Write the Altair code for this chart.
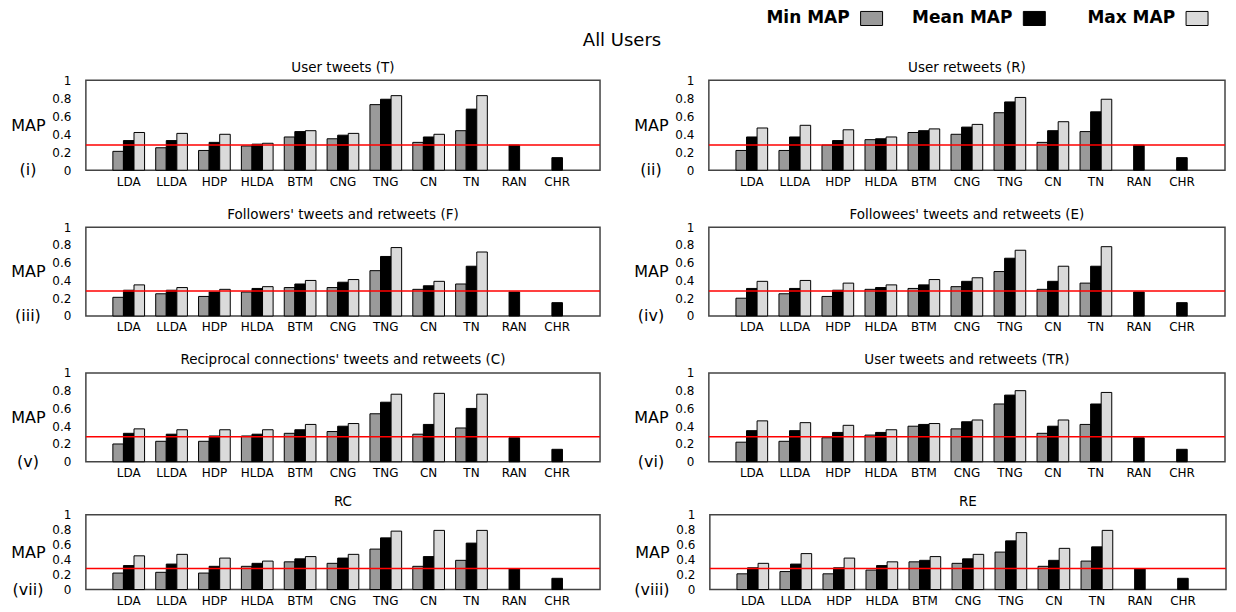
import altair as alt
import pandas as pd

methods = ["LDA", "LLDA", "HDP", "HLDA", "BTM", "CNG", "TNG", "CN", "TN", "RAN", "CHR"]
series = ["Min MAP", "Mean MAP", "Max MAP"]
series_fill = ["#9a9a9a", "#000000", "#dadada"]

panel_titles = [
    "User tweets (T)",
    "User retweets (R)",
    "Followers' tweets and retweets (F)",
    "Followees' tweets and retweets (E)",
    "Reciprocal connections' tweets and retweets (C)",
    "User tweets and retweets (TR)",
    "RC",
    "RE",
]
panel_tags = ["(i)", "(ii)", "(iii)", "(iv)", "(v)", "(vi)", "(vii)", "(viii)"]
random_line = [0.28, 0.28, 0.28, 0.28, 0.28, 0.28, 0.28, 0.28]
y_ticks = [0, 0.2, 0.4, 0.6, 0.8, 1]

# values per method (RAN and CHR have only a mean value)
min_T = [0.21, 0.25, 0.22, 0.27, 0.37, 0.35, 0.73, 0.31, 0.44, None, None]
mean_T = [0.33, 0.33, 0.31, 0.29, 0.43, 0.39, 0.79, 0.37, 0.68, 0.28, 0.14]
max_T = [0.42, 0.41, 0.40, 0.30, 0.44, 0.41, 0.83, 0.40, 0.83, None, None]

min_R = [0.22, 0.22, 0.28, 0.34, 0.42, 0.40, 0.64, 0.31, 0.43, None, None]
mean_R = [0.37, 0.37, 0.33, 0.35, 0.44, 0.48, 0.76, 0.44, 0.65, 0.28, 0.14]
max_R = [0.47, 0.50, 0.45, 0.37, 0.46, 0.51, 0.81, 0.54, 0.79, None, None]

min_F = [0.21, 0.25, 0.22, 0.27, 0.32, 0.32, 0.51, 0.30, 0.36, None, None]
mean_F = [0.29, 0.29, 0.27, 0.31, 0.36, 0.38, 0.67, 0.34, 0.56, 0.27, 0.15]
max_F = [0.35, 0.32, 0.30, 0.33, 0.40, 0.41, 0.77, 0.39, 0.72, None, None]

min_E = [0.20, 0.25, 0.22, 0.30, 0.31, 0.33, 0.50, 0.30, 0.37, None, None]
mean_E = [0.31, 0.31, 0.29, 0.32, 0.35, 0.39, 0.65, 0.39, 0.56, 0.27, 0.15]
max_E = [0.39, 0.40, 0.37, 0.35, 0.41, 0.43, 0.74, 0.56, 0.78, None, None]

min_C = [0.20, 0.23, 0.23, 0.29, 0.32, 0.34, 0.54, 0.31, 0.38, None, None]
mean_C = [0.32, 0.31, 0.29, 0.31, 0.36, 0.40, 0.67, 0.42, 0.60, 0.27, 0.14]
max_C = [0.37, 0.36, 0.36, 0.36, 0.42, 0.43, 0.76, 0.77, 0.76, None, None]

min_TR = [0.22, 0.23, 0.27, 0.30, 0.40, 0.37, 0.65, 0.32, 0.42, None, None]
mean_TR = [0.35, 0.35, 0.33, 0.33, 0.42, 0.45, 0.75, 0.40, 0.65, 0.27, 0.14]
max_TR = [0.46, 0.44, 0.41, 0.36, 0.43, 0.47, 0.80, 0.47, 0.78, None, None]

min_RC = [0.22, 0.23, 0.22, 0.31, 0.37, 0.35, 0.54, 0.31, 0.39, None, None]
mean_RC = [0.32, 0.34, 0.31, 0.35, 0.41, 0.42, 0.69, 0.44, 0.62, 0.28, 0.15]
max_RC = [0.45, 0.47, 0.42, 0.38, 0.44, 0.47, 0.78, 0.79, 0.79, None, None]

min_RE = [0.21, 0.24, 0.21, 0.26, 0.37, 0.35, 0.50, 0.31, 0.38, None, None]
mean_RE = [0.29, 0.34, 0.29, 0.32, 0.39, 0.41, 0.65, 0.39, 0.57, 0.28, 0.15]
max_RE = [0.35, 0.48, 0.42, 0.37, 0.44, 0.47, 0.76, 0.55, 0.79, None, None]

panel_values = [
    (min_T, mean_T, max_T),
    (min_R, mean_R, max_R),
    (min_F, mean_F, max_F),
    (min_E, mean_E, max_E),
    (min_C, mean_C, max_C),
    (min_TR, mean_TR, max_TR),
    (min_RC, mean_RC, max_RC),
    (min_RE, mean_RE, max_RE),
]

FONT = "DejaVu Sans"


def make_table(vals):
    rows = []
    for s, arr in zip(series, vals):
        for m, v in zip(methods, arr):
            if v is not None:
                rows.append({"method": m, "series": s, "value": v})
    return pd.DataFrame(rows)


def panel(i, w, h, title_offset=0):
    df = make_table(panel_values[i])
    yscale = alt.Scale(domain=[0, 1], nice=False)
    yaxis = alt.Axis(values=y_ticks, format="~g", ticks=False, domain=False,
                     grid=False, labelPadding=15, labelFontSize=12,
                     labelOverlap=False, labelFlush=False, labelBound=False,
                     labelColor="black", labelFont=FONT,
                     title="MAP", titleAngle=0, titleX=-58, titleY=h / 2,
                     titleAlign="center", titleBaseline="middle",
                     titleFontSize=16, titleFontWeight="normal",
                     titleColor="black", titleFont=FONT)
    bars = alt.Chart(df).mark_bar(stroke="black", strokeWidth=1).encode(
        x=alt.X(
            "method:N",
            sort=methods,
            scale=alt.Scale(domain=methods, paddingInner=0.26, paddingOuter=0.63),
            axis=alt.Axis(title=None, labelAngle=0, ticks=False, domain=False,
                          labelPadding=6, labelFontSize=12, labelColor="black",
                          labelFont=FONT),
        ),
        xOffset=alt.XOffset("series:N", sort=series,
                            scale=alt.Scale(domain=series, paddingInner=0, paddingOuter=0)),
        y=alt.Y("value:Q", scale=yscale, axis=yaxis),
        fill=alt.Fill("series:N", scale=alt.Scale(domain=series, range=series_fill),
                      legend=None),
    )
    rule = alt.Chart(pd.DataFrame({"y": [random_line[i]]})).mark_rule(
        color="#ff0000", strokeWidth=1.5
    ).encode(y=alt.Y("y:Q", scale=yscale, axis=yaxis))
    tag = alt.Chart(pd.DataFrame({"tag": [panel_tags[i]]})).mark_text(
        fontSize=16, font=FONT, align="center", baseline="middle", color="black"
    ).encode(x=alt.value(-58), y=alt.value(h), text="tag:N")
    return alt.layer(bars, rule, tag).properties(
        width=w, height=h,
        title=alt.TitleParams(panel_titles[i], fontSize=13.5, font=FONT,
                              fontWeight="normal", color="black",
                              offset=title_offset, anchor="middle"),
    )


legend_df = pd.DataFrame({"series": series})
lx = alt.X("series:N", sort=series,
           scale=alt.Scale(type="point", domain=series, range=[787, 1113], padding=0),
           axis=None)
legend_text = alt.Chart(legend_df).mark_text(
    fontSize=17, font=FONT, fontWeight="bold", align="right", baseline="middle",
    dx=-22, color="black"
).encode(x=lx, y=alt.value(7), text="series:N")
legend_swatch = alt.Chart(legend_df).mark_point(
    shape="M-1,-0.64H1V0.64H-1Z", size=484, filled=True, stroke="black",
    strokeWidth=1, opacity=1
).encode(
    x=lx, y=alt.value(7),
    fill=alt.Fill("series:N", scale=alt.Scale(domain=series, range=series_fill),
                  legend=None),
)
main_title = alt.Chart(pd.DataFrame({"t": ["All Users"]})).mark_text(
    fontSize=18, font=FONT, align="center", baseline="middle", color="black"
).encode(x=alt.value(537), y=alt.value(30), text="t:N")

header = alt.layer(legend_text, legend_swatch, main_title).properties(
    width=1128, height=34, view=alt.ViewBackground(strokeOpacity=0)
)

W_L, W_R = 515, 517
row1 = alt.hconcat(panel(0, W_L, 90), panel(1, W_R, 90), spacing=31)
row2 = alt.hconcat(panel(2, W_L, 89), panel(3, W_R, 89), spacing=31)
row3 = alt.hconcat(panel(4, W_L, 89), panel(5, W_R, 89), spacing=31)
row4 = alt.hconcat(panel(6, W_L, 75), panel(7, W_R, 75), spacing=31)

rows123 = alt.vconcat(row1, row2, row3, spacing=18)
body = alt.vconcat(rows123, row4, spacing=14)

chart = alt.vconcat(header, body, spacing=9).properties(
    padding={"left": 2, "top": 0, "right": 0, "bottom": 0}
).configure(font=FONT).configure_view(
    stroke="#444444", strokeWidth=1.5
).configure_axis(labelOverlap=False)

chart.save("out.html", embed_options={"renderer": "svg", "actions": False})
